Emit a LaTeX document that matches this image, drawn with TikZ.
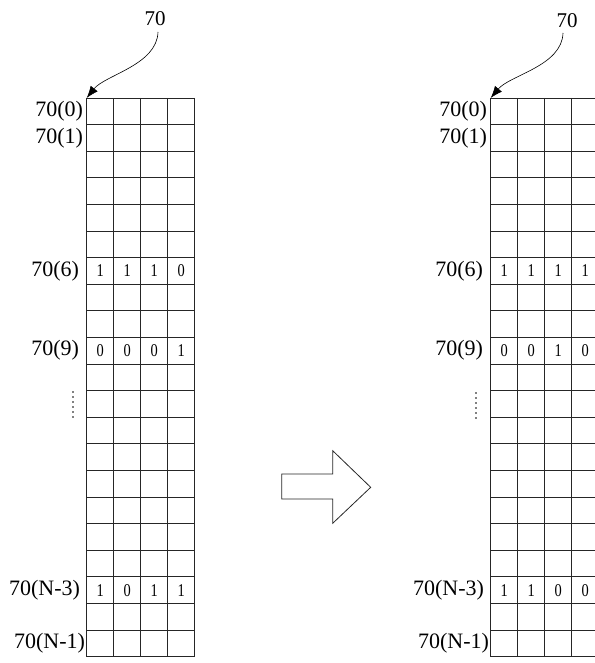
\documentclass[tikz,border=0pt]{standalone}
\usepackage{fontspec}
\setmainfont{Liberation Serif}
\usetikzlibrary{arrows.meta}
\begin{document}
\begin{tikzpicture}[x=1pt,y=-1pt,
  gridline/.style={line width=0.7pt,black!85},
  rowlabel/.style={anchor=east,inner sep=0pt,font=\fontsize{22}{22}\selectfont},
  toplabel/.style={inner sep=0pt,font=\fontsize{21}{21}\selectfont},
  bit/.style={inner sep=0pt,font=\fontsize{18}{18}\selectfont},
  refarrow/.style={line width=0.6pt,-{Latex[length=12pt,width=9pt]}},
  blockarrow/.style={line width=0.8pt,black!85,fill=white},
  vdot/.style={circle,fill=black,inner sep=0pt,minimum size=1.8pt}]
\useasboundingbox (0,0) rectangle (594,663);
\def\rh{26.6}
\def\cw{27}
% grids
\foreach \gx/\gn in {86.7/L,490.7/R}{
  \foreach \i in {0,...,21}
    \draw[gridline] (\gx,{98+\i*\rh}) -- ({\gx+4*\cw},{98+\i*\rh});
  \foreach \j in {0,...,4}
    \draw[gridline] ({\gx+\j*\cw},98) -- ({\gx+\j*\cw},{98+21*\rh});
  \coordinate (\gn-corner) at (\gx,98);
}
% left grid bits
\foreach \r/\bits in {6/{1,1,1,0},9/{0,0,0,1},18/{1,0,1,1}}{
  \foreach \b [count=\c from 0] in \bits
    \node[bit] (L-\r-\c) at ({86.7+0.5*\cw+\c*\cw},{98+(\r+0.5)*\rh}) {\scalebox{0.8}[1]{\b}};
}
% right grid bits
\foreach \r/\bits in {6/{1,1,1,1},9/{0,0,1,0},18/{1,1,0,0}}{
  \foreach \b [count=\c from 0] in \bits
    \node[bit] (R-\r-\c) at ({490.7+0.5*\cw+\c*\cw},{98+(\r+0.5)*\rh}) {\scalebox{0.8}[1]{\b}};
}
% row labels
\foreach \gx/\gn in {86.7/L,490.7/R}{
  \node[rowlabel] (\gn-l0) at ({\gx-3.5},{98+0.5*\rh}) {70(0)};
  \node[rowlabel] (\gn-l1) at ({\gx-3.5},{98+1.5*\rh}) {70(1)};
  \node[rowlabel] (\gn-l6) at ({\gx-7.5},{98+6.5*\rh}) {70(6)};
  \node[rowlabel] (\gn-l9) at ({\gx-7.5},{98+9.5*\rh}) {70(9)};
  \node[rowlabel] (\gn-l18) at ({\gx-6.5},{98+18.5*\rh}) {70(N-3)};
  \node[rowlabel] (\gn-l20) at ({\gx-1.5},{98+20.5*\rh}) {70(N-1)};
}
% vertical ellipsis
\foreach \k in {0,...,5}{
  \node[vdot] (Ld\k) at (73,{392+\k*5}) {};
  \node[vdot] (Rd\k) at (476,{393+\k*5}) {};
}
% top reference labels and curved arrows
\node[toplabel] (L-ref) at (155,19) {70};
\node[toplabel] (R-ref) at (567,21) {70};
\coordinate (L-start) at (158,32);
\coordinate (R-start) at (563,33);
\draw[refarrow] (L-start) .. controls (157,65) and (105,75) .. (L-corner);
\draw[refarrow] (R-start) .. controls (562,66) and (510,75) .. (R-corner);
% block arrow
\draw[blockarrow] (281.7,474) -- (332.7,474) -- (332.7,450.7) -- (370.7,487.3)
  -- (332.7,523.3) -- (332.7,499) -- (281.7,499) -- cycle;
\end{tikzpicture}
\end{document}
